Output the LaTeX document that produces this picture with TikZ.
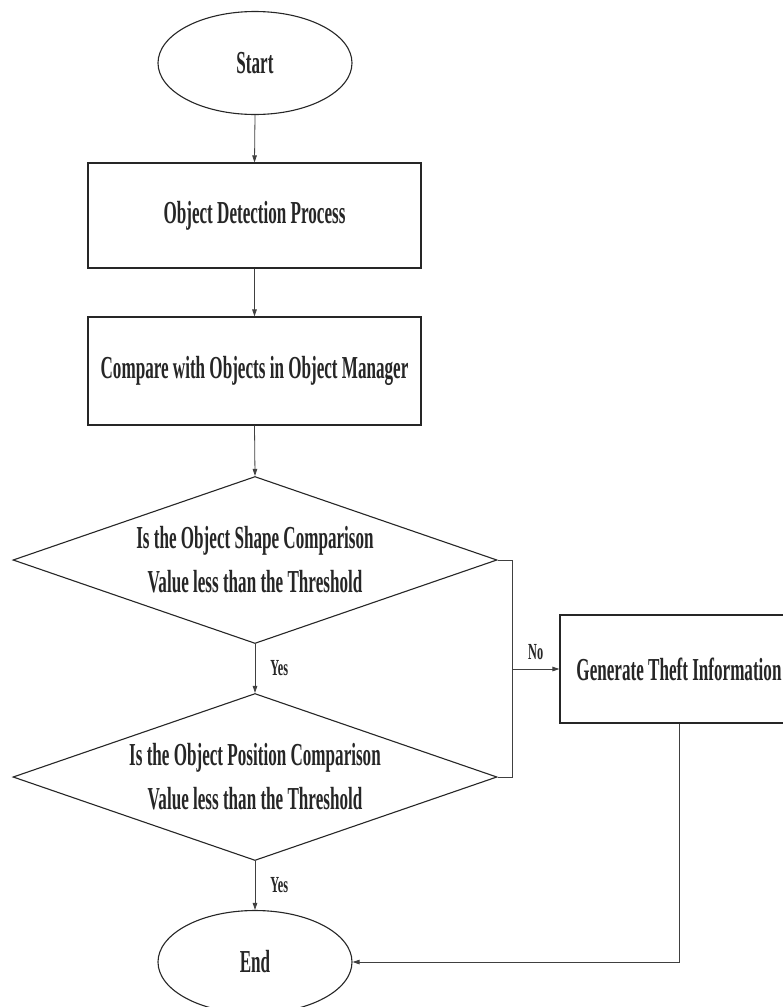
\documentclass[tikz,border=0pt]{standalone}
\usepackage{fontspec}
\setmainfont[FakeStretch=0.534]{Liberation Serif}
\usetikzlibrary{shapes.geometric,arrows.meta}
\begin{document}
\begin{tikzpicture}[x=1pt,y=-1pt,
  shapeline/.style={draw=black!85,line width=1.1pt},
  txt/.style={font=\fontsize{32}{44}\selectfont\bfseries,align=center,text=black!85},
  oval/.style={shapeline,txt,ellipse,minimum width=194pt,minimum height=103pt,inner sep=0pt},
  procbox/.style={shapeline,txt,rectangle,inner sep=0pt},
  decision/.style={shapeline,txt,diamond,aspect=2.9,inner sep=0pt,minimum width=484pt,minimum height=167pt},
  conn/.style={draw=black!75,line width=0.8pt},
  arr/.style={conn,-{Triangle[length=7pt,width=4.5pt]}},
  lbl/.style={font=\fontsize{23}{26}\selectfont\bfseries,text=black!85,inner sep=1pt}]
\useasboundingbox (0,0) rectangle (783,1007);
\fill[white] (0,0) rectangle (783,1007);
\node[oval] (start) at (255,63) {Start};
\node[procbox,minimum width=333pt,minimum height=105pt] (detect) at (254.5,215.5) {Object Detection Process};
\node[procbox,minimum width=333pt,minimum height=108pt] (compare) at (254.5,371) {Compare with Objects in Object Manager};
\node[decision] (d1) at (255,560) {Is the Object Shape Comparison\\Value less than the Threshold};
\node[decision] (d2) at (255,777) {Is the Object Position Comparison\\Value less than the Threshold};
\node[procbox,minimum width=238pt,minimum height=108pt] (gen) at (679,669) {Generate Theft Information};
\node[oval] (end) at (255,962) {End};
\coordinate (j1) at (512,560);
\coordinate (j2) at (512,777);
\coordinate (j3) at (512,669);
\draw[arr] (start.south) -- (detect.north);
\draw[arr] (detect.south) -- (compare.north);
\draw[arr] (compare.south) -- (d1.north);
\draw[arr] (d1.south) -- node[lbl,right=14pt] (y1) {Yes} (d2.north);
\draw[arr] (d2.south) -- node[lbl,right=14pt] (y2) {Yes} (end.north);
\draw[conn] (d1.east) -- (j1) -- (j2) -- (d2.east);
\draw[arr] (j3) -- node[lbl,above=8pt] (no) {No} (gen.west);
\draw[arr] (gen.south) |- (end.east);
\end{tikzpicture}
\end{document}
